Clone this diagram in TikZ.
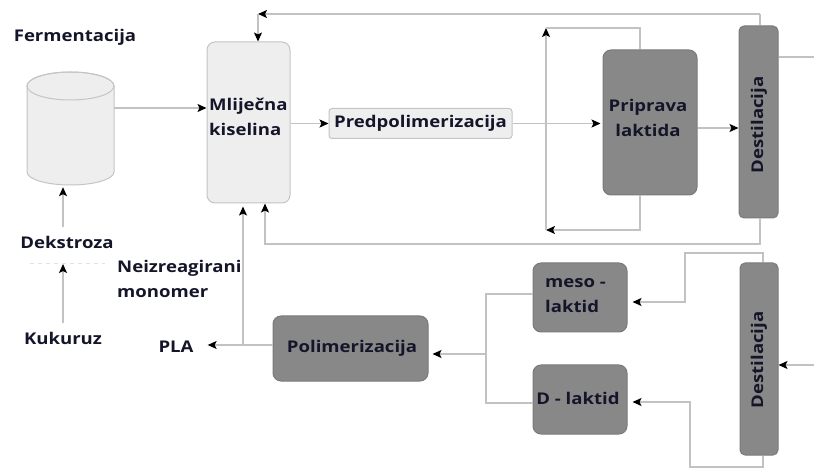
\documentclass[tikz,border=0pt]{standalone}
\usepackage{fontspec}
\newfontfamily\lab{Open Sans}[FakeStretch=1.15]
\usetikzlibrary{arrows.meta,calc}
\definecolor{lightfill}{HTML}{EEEEEE}
\definecolor{lightdraw}{HTML}{C4C4C4}
\definecolor{darkfill}{HTML}{888888}
\definecolor{darkdraw}{HTML}{7A7A7A}
\definecolor{wire}{HTML}{C2C2C2}
\definecolor{ink}{HTML}{15152A}
\definecolor{faint}{HTML}{E2E2E2}
\tikzset{
 txt/.style={font=\lab\bfseries\fontsize{16.2}{25}\selectfont, text=ink, inner sep=0pt},
 lightbox/.style={draw=lightdraw, fill=lightfill, rounded corners=8bp, line width=1bp, inner sep=0pt},
 darkbox/.style={draw=darkdraw, fill=darkfill, rounded corners=8bp, line width=1bp, inner sep=0pt},
 wirel/.style={draw=wire, line width=1.3bp},
 arr/.style={wirel, -{Stealth[length=9bp,width=8bp,inset=2bp,color=black]}},
}
\begin{document}
\begin{tikzpicture}[x=1bp,y=-1bp]
\useasboundingbox (0,0) rectangle (814,468);

% cylinder (fermentation tank)
\node[minimum width=87bp, minimum height=113bp, inner sep=0pt] (cyl) at (70.5,128.5) {};
\path[fill=lightfill, draw=lightdraw, line width=1bp] (27,86) -- (27,172)
  arc[start angle=180, end angle=360, x radius=43.5bp, y radius=13bp]
  -- (114,86) arc[start angle=0, end angle=180, x radius=43.5bp, y radius=14bp] -- cycle;
\draw[lightdraw, line width=1bp] (70.5,86) ellipse [x radius=43.5bp, y radius=14bp];

% boxes
\node[lightbox, minimum width=83bp, minimum height=161bp] (mk) at (248.5,122.5) {};
\node[txt, anchor=west, align=left] (mktext) at (209,117) {Mliječna\\kiselina};
\node[lightbox, rounded corners=3bp, minimum width=183bp, minimum height=30bp, txt] (pre) at (420.5,123.5) {Predpolimerizacija};
\node[darkbox, minimum width=94bp, minimum height=145bp] (prip) at (650,122.5) {};
\node[txt, align=center] (priptext) at (648,118) {Priprava\\laktida};
\node[darkbox, rounded corners=5bp, minimum width=39bp, minimum height=192bp] (d1) at (758.5,122) {};
\node[txt, rotate=90] (d1text) at (759,125) {Destilacija};
\node[darkbox, rounded corners=5bp, minimum width=38bp, minimum height=192bp] (d2) at (759,359) {};
\node[txt, rotate=90] (d2text) at (759,360) {Destilacija};
\node[darkbox, minimum width=94bp, minimum height=69bp] (meso) at (580,297.5) {};
\node[txt, anchor=west, align=left] (mesotext) at (545,296) {meso -\\laktid};
\node[darkbox, minimum width=94bp, minimum height=69bp] (dlak) at (580,399.5) {};
\node[txt] (dlaktext) at (578,398) {D - laktid};
\node[darkbox, minimum width=155bp, minimum height=65bp] (poli) at (350.5,348.5) {};
\node[txt] (politext) at (352,348) {Polimerizacija};

% free labels
\node[txt] (ferm) at (75,37) {Fermentacija};
\node[txt] (dek) at (67,242) {Dekstroza};
\node[txt] (kuk) at (63,338) {Kukuruz};
\node[txt, anchor=west, align=left] (neiz) at (117,279) {Neizreagirani\\monomer};
\node[txt] (pla) at (176,347) {PLA};

% coordinates
\coordinate (y108) at (0,108);
\coordinate (y128) at (0,128);
\coordinate (tl1) at (760,14);
\coordinate (tl2) at (258,14);
\coordinate (bl1) at (760,244);
\coordinate (bl2) at (265,244);
\coordinate (pl1) at (640,230);
\coordinate (pl2) at (546,230);
\coordinate (pl3) at (546,28);
\coordinate (pl4) at (640,28);
\coordinate (exit1) at (814,57);
\coordinate (pj) at (243,345);
\coordinate (m1) at (763,253);
\coordinate (m2) at (685,253);
\coordinate (m3) at (685,302);
\coordinate (dd1) at (763,467);
\coordinate (dd2) at (690,467);
\coordinate (dd3) at (690,402);
\coordinate (in2) at (814,365);
\coordinate (j1) at (486,294);
\coordinate (j2) at (486,403);
\coordinate (j3) at (486,354);
\coordinate (da) at (63,227);
\coordinate (ka) at (63,323);
\coordinate (kb) at (63,264);
\coordinate (dl1) at (30,264);
\coordinate (dl2) at (105,264);

% connectors
\draw[arr] (cyl.east |- y108) -- (mk.west |- y108);
\draw[arr] (mk.east |- pre.west) -- (pre.west);
\draw[arr, shorten >=2bp] (pre.east) -- (prip.west |- pre.east);
\draw[arr] (prip.east |- y128) -- (d1.west |- y128);
\draw[wirel] (d1.east |- exit1) -- (exit1);
\draw[wirel] (d1.north -| tl1) -- (tl1);
\draw[arr] (tl1) -- (tl2);
\draw[arr] (tl2) -- (mk.north -| tl2);
\draw[arr] (d1.south -| bl1) -- (bl1) -- (bl2) -- (mk.south -| bl2);
\draw[arr] (prip.south -| pl1) -- (pl1) -- (pl2);
\draw[arr] (pl2) -- (pl3);
\draw[wirel] (pl3) -- (pl4) -- (prip.north -| pl4);
\draw[arr, shorten >=14bp] (poli.west |- pj) -- (pla.east |- pj);
\draw[arr, shorten >=3bp] (pj) -- (mk.south -| pj);
\draw[arr, shorten >=5bp] (d2.north -| m1) -- (m1) -- (m2) -- (m3) -- (meso.east |- m3);
\draw[arr, shorten >=5bp] (d2.south -| dd1) -- (dd1) -- (dd2) -- (dd3) -- (dlak.east |- dd3);
\draw[arr] (in2) -- (d2.east |- in2);
\draw[wirel] (meso.west |- j1) -- (j1) -- (j2) -- (dlak.west |- j2);
\draw[arr, shorten >=4bp] (j3) -- (poli.east |- j3);
\draw[arr, shorten >=2bp] (da) -- (cyl.south -| da);
\draw[arr] (ka) -- (kb);
\draw[faint, line width=1bp, dash pattern=on 4bp off 4bp] (dl1) -- (dl2);
\end{tikzpicture}
\end{document}
